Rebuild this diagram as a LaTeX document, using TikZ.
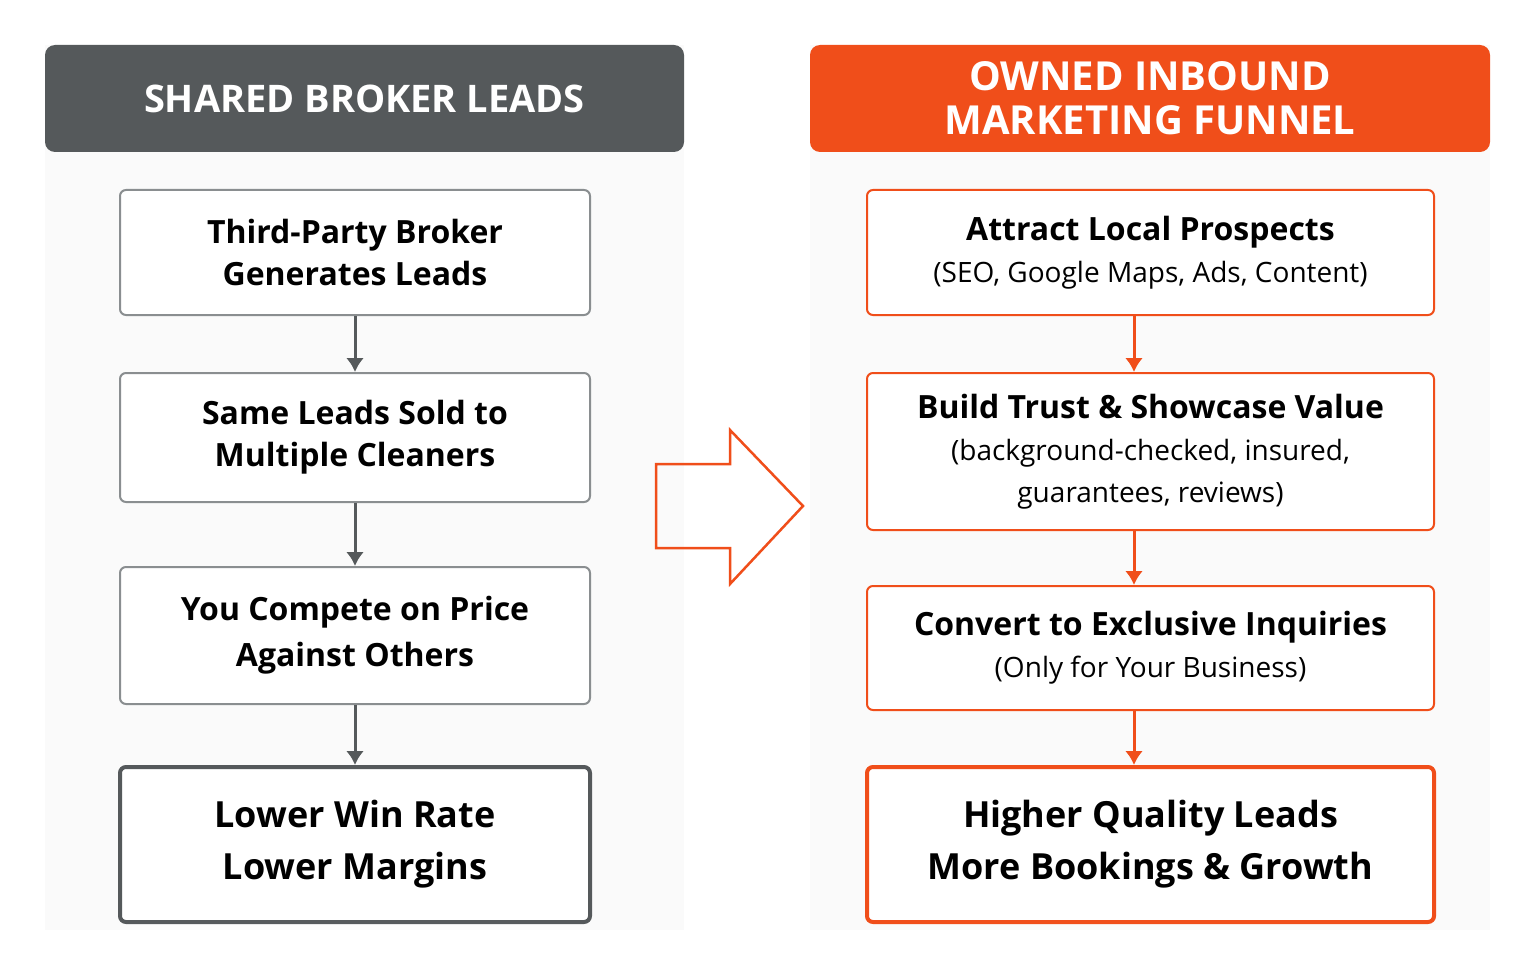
\documentclass[tikz,border=0pt]{standalone}
\usepackage{fontspec}
\setmainfont{Open Sans}
\usetikzlibrary{arrows.meta}
\definecolor{dg}{HTML}{55595B}
\definecolor{og}{HTML}{F04E1A}
\definecolor{bx}{HTML}{8A8E90}
\newcommand\subtx{\fontsize{28}{40}\selectfont\mdseries}
\begin{document}
\begin{tikzpicture}[x=1pt,y=-1pt,
 hdr/.style={rounded corners=10pt,text=white,font=\fontsize{38}{40}\selectfont\bfseries,align=center},
 lb/.style={draw=bx,line width=2pt,rounded corners=6pt,fill=white,align=center,font=\fontsize{32}{42}\selectfont\bfseries},
 rb/.style={draw=og,line width=2pt,rounded corners=6pt,fill=white,align=center,font=\fontsize{32}{42}\selectfont\bfseries},
 la/.style={draw=dg,line width=3pt,-{Latex[length=14pt,width=18pt]}},
 ra/.style={draw=og,line width=3pt,-{Latex[length=14pt,width=18pt]}}]
\useasboundingbox (0,0) rectangle (1535,971);
\fill[white] (0,0) rectangle (1535,971);
\fill[black!2] (45,45) rectangle (684,930);
\fill[black!2] (810,45) rectangle (1490,930);
\node[hdr,fill=dg,minimum width=639pt,minimum height=107pt] (lh) at (364.5,98.5) {SHARED BROKER LEADS};
\node[hdr,fill=og,minimum width=680pt,minimum height=107pt,font=\fontsize{40}{44}\selectfont\bfseries] (rh) at (1150,98.5) {OWNED INBOUND\\MARKETING FUNNEL};
\node[lb,minimum width=470pt,minimum height=125pt] (l1) at (355,252.5) {Third-Party Broker\\Generates Leads};
\node[lb,minimum width=470pt,minimum height=129pt] (l2) at (355,437.5) {Same Leads Sold to\\Multiple Cleaners};
\node[lb,minimum width=470pt,minimum height=137pt,font=\fontsize{32}{46}\selectfont\bfseries] (l3) at (355,635.5) {You Compete on Price\\Against Others};
\node[lb,draw=dg,line width=4pt,minimum width=470pt,minimum height=155pt,font=\fontsize{36}{52}\selectfont\bfseries] (l4) at (355,844.5) {Lower Win Rate\\Lower Margins};
\node[rb,minimum width=567pt,minimum height=125pt] (r1) at (1150.5,252.5) {Attract Local Prospects\\{\subtx(SEO, Google Maps, Ads, Content)}};
\node[rb,minimum width=567pt,minimum height=157pt] (r2) at (1150.5,451.5) {Build Trust \& Showcase Value\\{\subtx(background-checked, insured,}\\{\subtx guarantees, reviews)}};
\node[rb,minimum width=567pt,minimum height=124pt] (r3) at (1150.5,648) {Convert to Exclusive Inquiries\\{\subtx(Only for Your Business)}};
\node[rb,line width=4pt,minimum width=567pt,minimum height=155pt,font=\fontsize{36}{52}\selectfont\bfseries] (r4) at (1150.5,844.5) {Higher Quality Leads\\More Bookings \& Growth};
\draw[la] (l1.south) -- (l2.north);
\draw[la] (l2.south) -- (l3.north);
\draw[la] (l3.south) -- (l4.north);
\draw[ra] ([xshift=-16.5pt]r1.south) -- ([xshift=-16.5pt]r2.north);
\draw[ra] ([xshift=-16.5pt]r2.south) -- ([xshift=-16.5pt]r3.north);
\draw[ra] ([xshift=-16.5pt]r3.south) -- ([xshift=-16.5pt]r4.north);
\draw[og,line width=2.5pt,line join=miter] (656,464) -- (730,464) -- (730,430) -- (803,506) -- (730,584) -- (730,548) -- (656,548) -- cycle;
\end{tikzpicture}
\end{document}
